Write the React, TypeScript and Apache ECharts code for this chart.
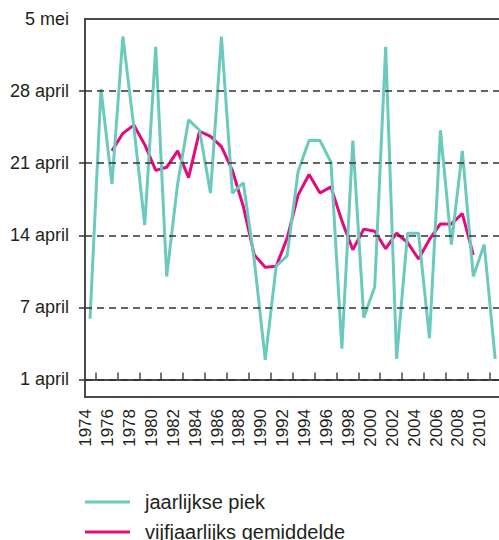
import React, { useEffect, useRef } from "react";
import * as echarts from "echarts";

const years = [
  1974, 1975, 1976, 1977, 1978, 1979, 1980, 1981, 1982, 1983,
  1984, 1985, 1986, 1987, 1988, 1989, 1990, 1991, 1992, 1993,
  1994, 1995, 1996, 1997, 1998, 1999, 2000, 2001, 2002, 2003,
  2004, 2005, 2006, 2007, 2008, 2009, 2010, 2011,
];
// days after 1 april
const jaarlijksePiek = [
  5.9, 28.2, 19.0, 33.3, 24.5, 15.0, 32.3, 10.0, 19.0, 25.2,
  24.2, 18.1, 33.3, 18.1, 19.1, 11.6, 1.9, 11.0, 12.0, 20.2,
  23.2, 23.2, 21.1, 3.0, 23.2, 6.0, 9.0, 32.3, 2.0, 14.2,
  14.2, 4.0, 24.2, 13.1, 22.2, 10.0, 13.1, 2.0,
];
const avgYears = [
  1976, 1977, 1978, 1979, 1980, 1981, 1982, 1983, 1984, 1985,
  1986, 1987, 1988, 1989, 1990, 1991, 1992, 1993, 1994, 1995,
  1996, 1997, 1998, 1999, 2000, 2001, 2002, 2003, 2004, 2005,
  2006, 2007, 2008, 2009,
];
const vijfjaarlijksGemiddelde = [
  22.2, 23.9, 24.7, 22.8, 20.3, 20.6, 22.2, 19.6, 24.1, 23.6,
  22.6, 20.3, 16.8, 12.1, 10.9, 11.0, 13.7, 17.9, 19.9, 18.1,
  18.7, 15.4, 12.6, 14.6, 14.4, 12.7, 14.2, 13.3, 11.7, 13.6,
  15.1, 15.1, 16.1, 12.1,
];
const yTickValues = [0, 7, 14, 21, 28, 35];
const yTickLabels = ["1 april", "7 april", "14 april", "21 april", "28 april", "5 mei"];
const gridValues = [0, 7, 14, 21, 28];
const xTickLabels = [
  1974, 1976, 1978, 1980, 1982, 1984, 1986, 1988, 1990, 1992,
  1994, 1996, 1998, 2000, 2002, 2004, 2006, 2008, 2010,
];
const seriesNames = ["jaarlijkse piek", "vijfjaarlijks gemiddelde"];

const FONT = "'Liberation Sans', Arial, Helvetica, sans-serif";
const TEAL = "#6ccabd";
const PINK = "#e5097f";
const TEXT = "#231f20";
const AXIS = "#4a4a4a";

const legendBase = {
  orient: "vertical",
  left: 85,
  padding: 0,
  itemWidth: 45,
  itemHeight: 3,
  icon: "rect",
  selectedMode: false,
  textStyle: {
    fontFamily: FONT,
    fontSize: 20,
    lineHeight: 20,
    color: TEXT,
    padding: [0, 0, 0, 10],
  },
};

export default function App() {
  const ref = useRef<HTMLDivElement>(null);
  useEffect(() => {
    if (!ref.current) return;
    const chart = echarts.init(ref.current, null, { renderer: "svg" });
    chart.setOption({
      animation: false,
      textStyle: { fontFamily: FONT },
      grid: {
        left: 85,
        top: 19,
        right: 8.4,
        bottom: 143,
        show: true,
        borderColor: AXIS,
        borderWidth: 2,
      },
      legend: [
        { ...legendBase, top: 492, data: [seriesNames[0]] },
        { ...legendBase, top: 522, data: [seriesNames[1]] },
      ],
      xAxis: {
        type: "value",
        min: 1973.54,
        max: 2012.5,
        splitLine: { show: false },
        axisLine: { show: true, lineStyle: { color: AXIS, width: 2 } },
        axisTick: {
          show: true,
          inside: true,
          length: 7,
          customValues: xTickLabels.map((y) => y + 0.5),
          lineStyle: { color: AXIS, width: 1.5 },
        },
        axisLabel: {
          customValues: xTickLabels.map((y) => y - 0.4),
          formatter: (v: number) => String(Math.round(v)),
          rotate: 90,
          margin: 12,
          fontSize: 17,
          color: TEXT,
          fontFamily: FONT,
        },
      },
      yAxis: {
        type: "value",
        min: -1.7,
        max: 35,
        splitLine: { show: false },
        axisLine: { show: true, lineStyle: { color: AXIS, width: 2 } },
        axisTick: {
          show: true,
          inside: false,
          length: 6,
          customValues: gridValues,
          lineStyle: { color: "#333", width: 1.5 },
        },
        axisLabel: {
          customValues: yTickValues,
          formatter: (v: number) => {
            const i = yTickValues.indexOf(Math.round(v));
            return i >= 0 ? yTickLabels[i] : "";
          },
          margin: 16,
          fontSize: 18,
          color: TEXT,
          fontFamily: FONT,
        },
      },
      series: [
        {
          name: "grid",
          type: "line",
          data: [],
          z: 1,
          silent: true,
          markLine: {
            silent: true,
            symbol: "none",
            label: { show: false },
            lineStyle: { color: "#333", type: [7, 5], width: 1.5 },
            data: gridValues.map((v) => ({ yAxis: v })),
          },
        },
        {
          name: seriesNames[1],
          type: "line",
          z: 2,
          symbol: "none",
          lineStyle: { color: PINK, width: 3 },
          itemStyle: { color: PINK },
          data: avgYears.map((y, i) => [y, vijfjaarlijksGemiddelde[i]]),
        },
        {
          name: seriesNames[0],
          type: "line",
          z: 3,
          symbol: "none",
          lineStyle: { color: TEAL, width: 3 },
          itemStyle: { color: TEAL },
          data: years.map((y, i) => [y, jaarlijksePiek[i]]),
        },
      ],
    });
    return () => chart.dispose();
  }, []);
  return (
    <div
      style={{
        position: "absolute",
        left: 0,
        top: 0,
        width: 499,
        height: 540,
        overflow: "hidden",
        background: "#fff",
      }}
    >
      <div ref={ref} style={{ width: 520, height: 540 }} />
    </div>
  );
}
